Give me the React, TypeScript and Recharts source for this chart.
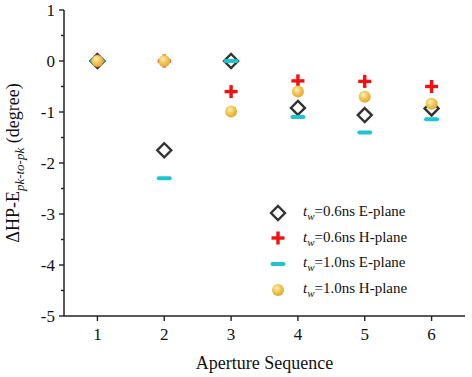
import { ScatterChart, Scatter, XAxis, YAxis, Legend } from 'recharts'

const APERTURES = [1, 2, 3, 4, 5, 6]
const E_06 = [0, -1.75, 0, -0.92, -1.06, -0.93]
const H_06 = [0, 0, -0.6, -0.39, -0.4, -0.5]
const E_10 = [0, -2.3, 0, -1.1, -1.4, -1.14]
const H_10 = [0, 0, -0.99, -0.6, -0.7, -0.84]

const X_TICKS = [1, 2, 3, 4, 5, 6]
const Y_TICKS = [-5, -4.5, -4, -3.5, -3, -2.5, -2, -1.5, -1, -0.5, 0, 0.5, 1]

const FONT = '"Liberation Serif", "DejaVu Serif", serif'
const AXIS = '#222'

const toPoints = (vals: number[]) => APERTURES.map((a, i) => ({ x: a, y: vals[i] }))

const Diamond = ({ cx, cy }: any) => (
  <path
    d={`M${cx},${cy - 7} L${cx + 7},${cy} L${cx},${cy + 7} L${cx - 7},${cy} Z`}
    fill="none"
    stroke="#333"
    strokeWidth={2.4}
    strokeLinejoin="miter"
  />
)

const Plus = ({ cx, cy }: any) => (
  <g stroke="#f21010" strokeWidth={3.4}>
    <line x1={cx - 6.5} y1={cy} x2={cx + 6.5} y2={cy} />
    <line x1={cx} y1={cy - 6.5} x2={cx} y2={cy + 6.5} />
  </g>
)

const Dash = ({ cx, cy }: any) => (
  <rect x={cx - 7.5} y={cy - 2} width={15} height={4} rx={2} fill="#1cc6cc" />
)

const Ball = ({ cx, cy }: any) => (
  <g>
    <defs>
      <radialGradient id="ballGrad" cx="40%" cy="35%" r="65%">
        <stop offset="0%" stopColor="#fff3c0" />
        <stop offset="45%" stopColor="#f3cc5c" />
        <stop offset="100%" stopColor="#e0a830" />
      </radialGradient>
    </defs>
    <circle cx={cx} cy={cy} r={6} fill="url(#ballGrad)" />
  </g>
)

const SERIES = [
  { key: 'e06', data: E_06, shape: Diamond, tw: '0.6', plane: 'E' },
  { key: 'h06', data: H_06, shape: Plus, tw: '0.6', plane: 'H' },
  { key: 'e10', data: E_10, shape: Dash, tw: '1.0', plane: 'E' },
  { key: 'h10', data: H_10, shape: Ball, tw: '1.0', plane: 'H' },
]

const YTick = ({ x, y, payload }: any) => {
  const v = payload.value
  const major = Number.isInteger(v)
  return (
    <g>
      <line x1={x} y1={y} x2={x - (major ? 5 : 3)} y2={y} stroke={AXIS} strokeWidth={1.4} />
      {major && (
        <text x={x - 9} y={y} dy={6} textAnchor="end" fontFamily={FONT} fontSize={17} fill="#111">
          {v}
        </text>
      )}
    </g>
  )
}

const XTick = ({ x, y, payload }: any) => (
  <g>
    <line x1={x} y1={y} x2={x} y2={y + 5} stroke={AXIS} strokeWidth={1.4} />
    <text x={x} y={y + 24} textAnchor="middle" fontFamily={FONT} fontSize={17} fill="#111">
      {payload.value}
    </text>
  </g>
)

const YLabel = ({ viewBox }: any) => {
  const cy = viewBox.y + viewBox.height / 2
  return (
    <text
      x={19}
      y={cy}
      transform={`rotate(-90, 19, ${cy})`}
      textAnchor="middle"
      fontFamily={FONT}
      fontSize={18}
      fill="#111"
    >
      ΔHP-E
      <tspan fontStyle="italic" fontSize={13} dy={5}>pk-to-pk</tspan>
      <tspan dy={-5}> (degree)</tspan>
    </text>
  )
}

const LegendBox = () => (
  <div style={{ fontFamily: FONT, fontSize: 15, color: '#111' }}>
    {SERIES.map(s => {
      const Icon = s.shape
      return (
        <div key={s.key} style={{ display: 'flex', alignItems: 'center', height: 25.6 }}>
          <svg width={24} height={20} style={{ marginRight: 13 }}>
            <Icon cx={12} cy={10} />
          </svg>
          <span>
            <i>t</i>
            <sub style={{ fontStyle: 'italic', fontSize: 11 }}>w</sub>={s.tw}ns {s.plane}-plane
          </span>
        </div>
      )
    })}
  </div>
)

export default function App() {
  return (
    <div style={{ position: 'absolute', left: 0, top: 0, width: 472, height: 377, background: '#fff' }}>
      <ScatterChart width={472} height={377} margin={{ top: 10, right: 7, bottom: 0, left: 0 }}>
        <XAxis
          type="number"
          dataKey="x"
          domain={[0.5, 6.5]}
          ticks={X_TICKS}
          height={61}
          tickSize={0}
          tickMargin={0}
          tickLine={false}
          tick={<XTick />}
          axisLine={{ stroke: AXIS, strokeWidth: 1.5 }}
          label={{
            value: 'Aperture Sequence',
            position: 'insideBottom',
            offset: 8,
            style: { fontFamily: FONT, fontSize: 18, fill: '#111' },
          }}
        />
        <YAxis
          type="number"
          dataKey="y"
          domain={[-5, 1]}
          ticks={Y_TICKS}
          interval={0}
          width={64}
          tickSize={0}
          tickMargin={0}
          tickLine={false}
          tick={<YTick />}
          axisLine={{ stroke: AXIS, strokeWidth: 1.5 }}
          label={{ content: <YLabel /> }}
        />
        <Legend
          layout="vertical"
          align="center"
          verticalAlign="middle"
          content={<LegendBox />}
          wrapperStyle={{ position: 'absolute', left: 266, top: 200, width: 200 }}
        />
        {SERIES.map(s => (
          <Scatter
            key={s.key}
            data={toPoints(s.data)}
            shape={<s.shape />}
            isAnimationActive={false}
          />
        ))}
      </ScatterChart>
    </div>
  )
}
